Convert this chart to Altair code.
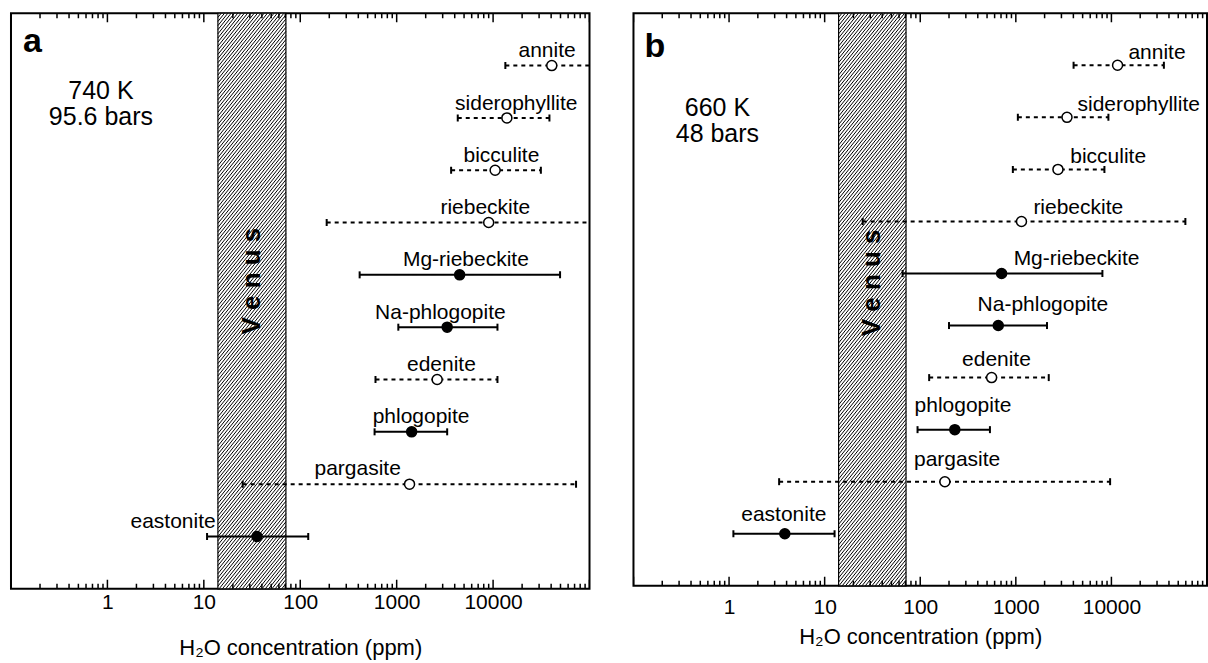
import math
import altair as alt
import pandas as pd

FONT = "Liberation Sans"

MINERALS = ["annite", "siderophyllite", "bicculite", "riebeckite", "Mg-riebeckite",
            "Na-phlogopite", "edenite", "phlogopite", "pargasite", "eastonite"]
ROW = [10, 9, 8, 7, 6, 5, 4, 3, 2, 1]
KIND = ["open", "open", "open", "open", "filled", "filled", "open", "filled", "open", "filled"]

# panel a: 740 K, 95.6 bars
A_VAL = [40600, 13900, 10500, 9000, 4500, 3340, 2630, 1430, 1360, 35.6]
A_LO = [13400, 4300, 3670, 188, 413, 1040, 603, 590, 25.3, 10.8]
A_HI = [130000, 38400, 31300, 130000, 49500, 11100, 11100, 3340, 72500, 121]
A_LABEL_X = [36300, 17400, 12200, 8300, 5220, 2840, 2910, 1790, 394, 4.8]
A_LABEL_ROW = [10.16, 9.16, 8.16, 7.16, 6.16, 5.16, 4.16, 3.17, 2.17, 1.16]

# panel b: 660 K, 48 bars
B_VAL = [11600, 3430, 2760, 1146, 710, 655, 558, 230, 181, 3.83]
B_LO = [4020, 1050, 931, 25, 65.4, 200, 124, 93.7, 3.34, 1.11]
B_HI = [35400, 9300, 8450, 59400, 8050, 2120, 2210, 536, 9690, 12.7]
B_LABEL_X = [30000, 19300, 9250, 4500, 4320, 1920, 627, 280, 243, 3.74]
B_LABEL_ROW = [10.13, 9.12, 8.12, 7.14, 6.16, 5.28, 4.22, 3.33, 2.31, 1.25]

VENUS = [14, 71]
X_DOMAIN = [0.1, 100000]
Y_DOMAIN = [0, 11]
TICK_LABELS = [1, 10, 100, 1000, 10000]
MAJOR_TICKS = [0.1, 1, 10, 100, 1000, 10000, 100000]
MINOR_TICKS = [m * 10 ** k for k in range(-1, 5) for m in range(2, 10)]

XS = alt.Scale(type="log", domain=X_DOMAIN, nice=False)
YS = alt.Scale(domain=Y_DOMAIN, nice=False, zero=False)


def make_axis(label_pad, title_y):
    return alt.Axis(
        values=TICK_LABELS, format="d", ticks=False, tickSize=0, domain=False,
        grid=False, labelFontSize=21, labelFont=FONT, labelColor="black",
        labelPadding=label_pad, labelFlush=False,
        title="H₂O concentration (ppm)", titleFont=FONT, titleFontSize=22,
        titleFontWeight="normal", titleColor="black", titleY=title_y,
        titleBaseline="alphabetic")


def hatch_df(W, H, slope=1.25, step=3.3):
    dpx = W / math.log10(X_DOMAIN[1] / X_DOMAIN[0])
    l0 = math.log10(X_DOMAIN[0])
    p0 = (math.log10(VENUS[0]) - l0) * dpx
    p1 = (math.log10(VENUS[1]) - l0) * dpx
    wb = p1 - p0
    rows = []
    c = -H / slope
    while c < wb:
        ya = max(0.0, (0 - c) * slope)
        yb = min(float(H), (wb - c) * slope)
        if yb > ya:
            xa = c + ya / slope
            xb = c + yb / slope
            rows.append({
                "x1": 10 ** ((p0 + xa) / dpx + l0),
                "x2": 10 ** ((p0 + xb) / dpx + l0),
                "y1": Y_DOMAIN[0] + ya / H * (Y_DOMAIN[1] - Y_DOMAIN[0]),
                "y2": Y_DOMAIN[0] + yb / H * (Y_DOMAIN[1] - Y_DOMAIN[0]),
            })
        c += step
    return pd.DataFrame(rows)


def panel(W, H, vals, los, his, lab_x, lab_row, letter, cond, cond_xy,
          letter_xy, venus_row, label_pad, title_y):
    AX = make_axis(label_pad, title_y)

    def xenc(field):
        return alt.X(field, scale=XS, axis=AX)

    def yenc(field):
        return alt.Y(field, scale=YS, axis=None)

    df = pd.DataFrame({
        "mineral": MINERALS, "row": ROW, "kind": KIND,
        "val": vals, "lo": los, "hi": his,
        "lx": lab_x, "ly": lab_row,
    })
    band_df = pd.DataFrame({"lo": [VENUS[0]], "hi": [VENUS[1]]})

    band = alt.Chart(band_df).mark_rect(fill="white", stroke="black", strokeWidth=1.2).encode(
        x=xenc("lo:Q"), x2="hi:Q", y=alt.value(0), y2=alt.value(H))
    hatch = alt.Chart(hatch_df(W, H)).mark_rule(color="black", strokeWidth=1.0).encode(
        x=xenc("x1:Q"), x2="x2:Q", y=yenc("y1:Q"), y2="y2:Q")

    venus = alt.Chart(pd.DataFrame({"t": ["V e n u s"]})).mark_text(
        angle=270, font=FONT, fontSize=26, fontWeight="bold", color="black",
        align="center", baseline="middle").encode(
        x=alt.X(datum=math.sqrt(VENUS[0] * VENUS[1]), scale=XS, axis=AX),
        y=alt.Y(datum=venus_row, scale=YS, axis=None), text="t:N")

    maj = pd.DataFrame({"v": MAJOR_TICKS})
    mnr = pd.DataFrame({"v": MINOR_TICKS})
    tick_layers = []
    for d, ln in ((maj, 9), (mnr, 5)):
        tick_layers.append(alt.Chart(d).mark_rule(color="black", strokeWidth=1.5, clip=True).encode(
            x=xenc("v:Q"), y=alt.value(H), y2=alt.value(H - ln)))
        tick_layers.append(alt.Chart(d).mark_rule(color="black", strokeWidth=1.5, clip=True).encode(
            x=xenc("v:Q"), y=alt.value(0), y2=alt.value(ln)))

    dash = alt.StrokeDash("kind:N", scale=alt.Scale(domain=["filled", "open"],
                                                    range=[[1, 0], [4, 4]]), legend=None)
    bars = alt.Chart(df).mark_rule(color="black", strokeWidth=2, clip=True).encode(
        x=xenc("lo:Q"), x2="hi:Q", y=yenc("row:Q"), strokeDash=dash)
    cap = "M0,-1L0,1"
    cap_lo = alt.Chart(df).mark_point(shape=cap, size=49, stroke="black", strokeWidth=2,
                                      filled=False, opacity=1, clip=True).encode(
        x=xenc("lo:Q"), y=yenc("row:Q"))
    cap_hi = alt.Chart(df).mark_point(shape=cap, size=49, stroke="black", strokeWidth=2,
                                      filled=False, opacity=1, clip=True).encode(
        x=xenc("hi:Q"), y=yenc("row:Q"))
    pts = alt.Chart(df).mark_point(shape="circle", size=100, stroke="black", strokeWidth=1.5,
                                   opacity=1, filled=True, clip=True).encode(
        x=xenc("val:Q"), y=yenc("row:Q"),
        fill=alt.Fill("kind:N", scale=alt.Scale(domain=["filled", "open"],
                                                range=["black", "white"]), legend=None))
    labels = alt.Chart(df).mark_text(font=FONT, fontSize=21, color="black",
                                     align="center", baseline="alphabetic").encode(
        x=xenc("lx:Q"), y=yenc("ly:Q"), text="mineral:N")

    letter_t = alt.Chart(pd.DataFrame({"t": [letter]})).mark_text(
        font=FONT, fontSize=34, fontWeight="bold", color="black",
        align="left", baseline="alphabetic").encode(
        x=alt.value(letter_xy[0]), y=alt.value(letter_xy[1]), text="t:N")
    cond_t = alt.Chart(pd.DataFrame({"t": [0]})).mark_text(
        text=cond, font=FONT, fontSize=25, lineHeight=26, color="black",
        align="center", baseline="alphabetic").encode(
        x=alt.value(cond_xy[0]), y=alt.value(cond_xy[1]))

    return alt.layer(band, hatch, venus, *tick_layers, bars, cap_lo, cap_hi, pts,
                     labels, letter_t, cond_t).properties(width=W, height=H)


pa = panel(579, 576, A_VAL, A_LO, A_HI, A_LABEL_X, A_LABEL_ROW, "a",
           ["740 K", "95.6 bars"], (90, 86), (12, 39), 5.88, 3, 66)
pb = panel(574, 573, B_VAL, B_LO, B_HI, B_LABEL_X, B_LABEL_ROW, "b",
           ["660 K", "48 bars"], (84, 103), (11, 44), 5.82, 11, 58)

chart = alt.hconcat(pa, pb, spacing=42).properties(
    padding={"left": 10, "top": 11, "right": 0, "bottom": 0},
    background="white",
).configure_view(stroke="black", strokeWidth=2)

chart.save("out.html", embed_options={"renderer": "svg", "actions": False})
